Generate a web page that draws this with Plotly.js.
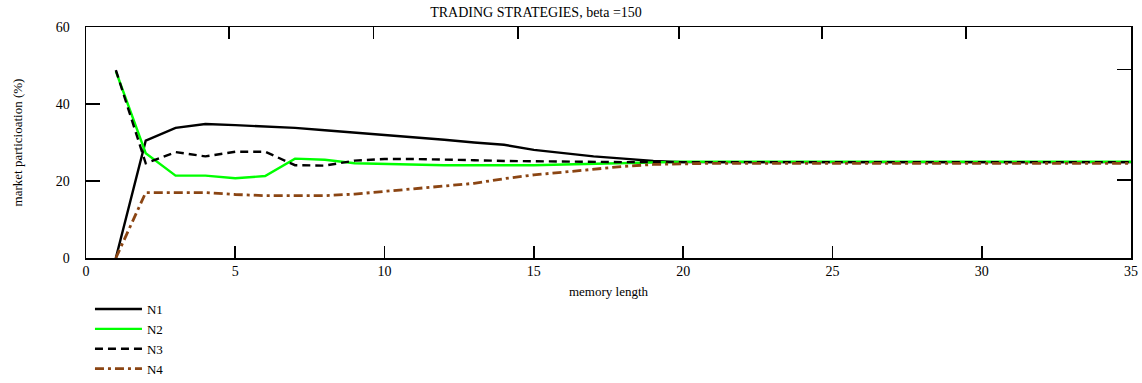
<!DOCTYPE html>
<html>
<head>
<meta charset="utf-8">
<script src="https://cdn.plot.ly/plotly-3.0.1.min.js"></script>
<style>
  html, body { margin: 0; padding: 0; background: #fff; }
  #chart { width: 1142px; height: 383px; }
</style>
</head>
<body>
<div id="chart"></div>
<script>
// memory length (x) and market participation (%) per strategy
const memoryLength = Array.from({length: 35}, (_, i) => i + 1);

const n1 = [0, 30.5, 33.8, 34.8, 34.5, 34.2, 33.8, 33.2, 32.6, 32.0,
            31.4, 30.7, 30.0, 29.4, 28.1, 27.3, 26.4, 25.8, 25.2, 24.9,
            24.9, 24.9, 24.9, 24.9, 24.9, 24.9, 24.9, 24.9, 24.9, 24.9,
            24.9, 24.9, 24.9, 24.9, 24.9];
const n2 = [48.5, 27.2, 21.4, 21.4, 20.7, 21.3, 25.8, 25.5, 24.6, 24.4,
            24.3, 24.1, 24.1, 24.1, 24.1, 24.3, 24.5, 24.7, 24.9, 25.0,
            25.0, 25.0, 25.0, 25.0, 25.0, 25.0, 25.0, 25.0, 25.0, 25.0,
            25.0, 25.0, 25.0, 25.0, 25.0];
const n3 = [48.8, 24.6, 27.5, 26.4, 27.6, 27.6, 24.1, 24.0, 25.3, 25.7,
            25.7, 25.6, 25.4, 25.2, 25.1, 25.0, 25.0, 24.9, 24.9, 24.9,
            24.9, 24.9, 24.9, 24.9, 24.9, 24.9, 24.9, 24.9, 24.9, 24.9,
            24.9, 24.9, 24.9, 24.9, 24.9];
const n4 = [0, 17.0, 17.0, 17.0, 16.5, 16.2, 16.2, 16.2, 16.6, 17.3,
            18.0, 18.6, 19.4, 20.6, 21.6, 22.3, 23.1, 23.8, 24.3, 24.5,
            24.6, 24.6, 24.6, 24.6, 24.6, 24.6, 24.6, 24.6, 24.6, 24.6,
            24.6, 24.6, 24.6, 24.6, 24.6];

const seriesNames = ['N1', 'N2', 'N3', 'N4'];
const xTicks = [0, 5, 10, 15, 20, 25, 30, 35];
const yTicks = [0, 20, 40, 60];

const serif = '"Liberation Serif", serif';

const traces = [
  {x: memoryLength, y: n1, name: seriesNames[0], mode: 'lines',
   line: {color: '#000000', width: 2.4}},
  {x: memoryLength, y: n2, name: seriesNames[1], mode: 'lines',
   line: {color: '#00ff00', width: 2.4}},
  {x: memoryLength, y: n3, name: seriesNames[2], mode: 'lines',
   line: {color: '#000000', width: 2.4, dash: '8px,5px'}},
  {x: memoryLength, y: n4, name: seriesNames[3], mode: 'lines',
   line: {color: '#8b4513', width: 2.8, dash: '9px,4px,3px,4px'}},
  // invisible copy on the frame axes so the top/right tick marks get drawn
  {x: memoryLength, y: n1, xaxis: 'x2', yaxis: 'y2', mode: 'lines',
   line: {color: 'rgba(0,0,0,0)', width: 0}, showlegend: false, hoverinfo: 'skip'}
];

const layout = {
  width: 1142, height: 383,
  margin: {l: 86, r: 11, t: 27, b: 125, autoexpand: false},
  paper_bgcolor: '#fff', plot_bgcolor: '#fff',
  font: {family: serif, size: 14, color: '#000'},
  title: {
    text: 'TRADING STRATEGIES, beta =150',
    font: {family: serif, size: 14, color: '#000'},
    xref: 'container', x: 0.4694, xanchor: 'center',
    yref: 'container', y: 0.968, yanchor: 'middle'
  },
  showlegend: true,
  legend: {
    x: 0.0038, xanchor: 'left', y: -0.1558, yanchor: 'top',
    font: {family: serif, size: 13, color: '#000'},
    itemwidth: 47,
    bgcolor: 'rgba(0,0,0,0)', borderwidth: 0, tracegroupgap: 0
  },
  xaxis: {
    range: [0, 35], tickvals: xTicks, ticktext: xTicks.map(String),
    ticks: 'inside', ticklen: 12, tickwidth: 1.8, tickcolor: '#000',
    showline: true, linecolor: '#000', linewidth: 1.5, mirror: true,
    showgrid: false, zeroline: false,
    tickfont: {family: serif, size: 14, color: '#000'},
    title: {text: 'memory length', font: {family: serif, size: 13, color: '#000'}, standoff: 8}
  },
  xaxis2: {
    overlaying: 'x', side: 'top', anchor: 'y', range: [0, 35],
    tickvals: [4.8, 9.63, 14.47, 19.85, 24.66, 29.47],
    ticks: 'inside', ticklen: 12, tickwidth: 1.8, tickcolor: '#000',
    showticklabels: false, showline: false, showgrid: false, zeroline: false
  },
  yaxis: {
    range: [0, 60], tickvals: yTicks, ticktext: yTicks.map(String),
    ticks: 'inside', ticklen: 14, tickwidth: 1.5, tickcolor: '#000',
    showline: true, linecolor: '#000', linewidth: 1.5, mirror: true,
    showgrid: false, zeroline: false, ticklabelstandoff: 12,
    tickfont: {family: serif, size: 14, color: '#000'},
    title: {text: 'market particioation (%)', font: {family: serif, size: 13, color: '#000'}, standoff: 30}
  },
  yaxis2: {
    overlaying: 'y', side: 'right', anchor: 'x', range: [0, 60],
    tickvals: [20.3, 49],
    ticks: 'inside', ticklen: 14, tickwidth: 1.5, tickcolor: '#000',
    showticklabels: false, showline: false, showgrid: false, zeroline: false
  }
};

Plotly.newPlot('chart', traces, layout, {displayModeBar: false, staticPlot: true});
</script>
</body>
</html>
